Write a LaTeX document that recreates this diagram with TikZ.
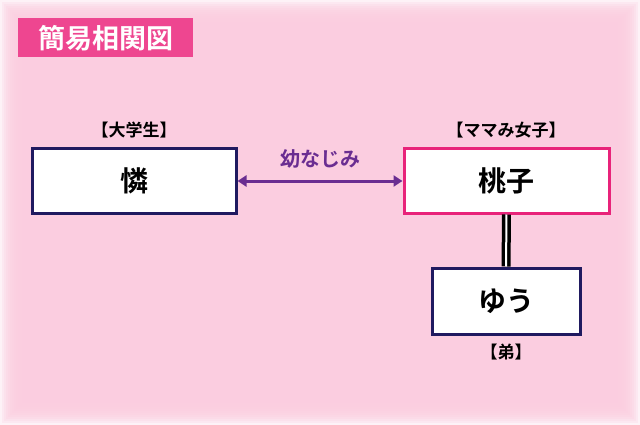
\documentclass[tikz,border=0pt]{standalone}
\usepackage{fontspec}
\newfontfamily\jp{Noto Sans CJK JP}[BoldFont={Noto Sans CJK JP Bold}]
\usepackage{tikz}
\usetikzlibrary{arrows.meta}
\definecolor{bgpink}{RGB}{251,205,224}
\definecolor{titlepink}{RGB}{238,70,144}
\definecolor{navy}{RGB}{32,26,96}
\definecolor{magenta}{RGB}{232,35,122}
\definecolor{friend}{RGB}{106,45,145}
\tikzstyle{person}=[draw,line width=3pt,fill=white,minimum height=64pt,inner sep=0pt,font=\jp\bfseries\fontsize{28}{28}\selectfont]
\tikzstyle{role}=[font=\jp\bfseries\fontsize{17}{17}\selectfont]
\tikzstyle{link} = [draw,line width=3pt,{Triangle[width=11pt,length=9pt]}-{Triangle[width=11pt,length=9pt]}]

\begin{document}
\begin{tikzpicture}[x=1pt,y=-1pt]
        \useasboundingbox (0,0) rectangle (640,425);
        \fill[white] (0,0) rectangle (640,425);
        \foreach \i in {0,...,9}
          \fill[bgpink,opacity=0.25] (2*\i,2*\i) rectangle (640-2*\i,425-2*\i);
        \fill[bgpink] (22,22) rectangle (618,403);
        % title
        \node[fill=titlepink,text=white,minimum width=175pt,minimum height=39pt,inner sep=0pt,font=\jp\bfseries\fontsize{27}{27}\selectfont] (title) at (105.5,38) {簡易相関図};
        % people
        \node[person,draw=navy,minimum width=204pt] (ren) at (134,181) {憐};
        \node[person,draw=magenta,minimum width=205pt] (momoko) at (506.5,181) {桃子};
        \node[person,draw=navy,minimum width=148pt,minimum height=66pt] (yuu) at (506,301) {ゆう};
        \node[role] (renrole) at (134,130) {【大学生】};
        \node[role] (momokorole) at (506,130) {【ママみ女子】};
        \node[role] (yuurole) at (506,352) {【弟】};
        % relations
        \draw[link,friend] (ren) to (momoko);
        \node[role,text=friend,font=\jp\bfseries\fontsize{20}{20}\selectfont] (friendlabel) at (320,159) {幼なじみ};
        \draw[black,line width=3.5pt,double=white,double distance=2pt] (momoko) to (yuu);
      \end{tikzpicture}
\end{document}
